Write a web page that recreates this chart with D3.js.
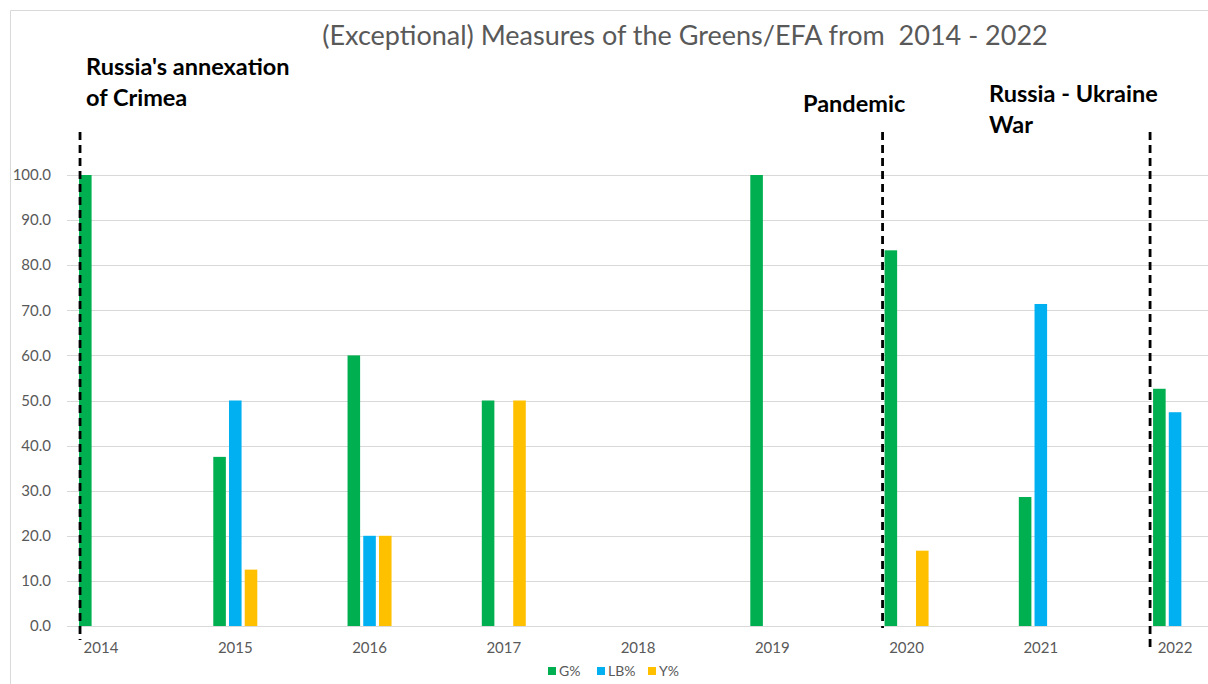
<!DOCTYPE html>
<html>
<head>
<meta charset="utf-8">
<script src="https://cdn.jsdelivr.net/npm/d3@7"></script>
<style>
  body { margin: 0; background: #fff; }
  svg { display: block; }
  text { font-family: Lato, "Open Sans", sans-serif; }
</style>
</head>
<body>
<svg id="chart" width="1208" height="684"></svg>
<script>
const years = ["2014", "2015", "2016", "2017", "2018", "2019", "2020", "2021", "2022"];
const seriesNames = ["G%", "LB%", "Y%"];
const gValues  = [100, 37.5, 60, 50, null, 100, 83.3, 28.6, 52.6];
const lbValues = [null, 50, 20, null, null, null, null, 71.4, 47.4];
const yValues  = [null, 12.5, 20, 50, null, null, 16.7, null, null];
const seriesColors = ["#00B050", "#00B0F0", "#FFC000"];
const yTicks = [0, 10, 20, 30, 40, 50, 60, 70, 80, 90, 100];
const events = [
  { year: "2014", lines: ["Russia's annexation", "of Crimea"] },
  { year: "2020", lines: ["Pandemic"] },
  { year: "2022", lines: ["Russia - Ukraine", "War"] }
];
const title = "(Exceptional) Measures of the Greens/EFA from  2014 - 2022";

const seriesValues = [gValues, lbValues, yValues];
const svg = d3.select("#chart");

// chart border (top and left visible)
svg.append("path").attr("d", "M10.5,684 V10.5 H1208").attr("fill", "none")
  .attr("stroke", "#d9d9d9").attr("stroke-width", 1);

const x = d3.scaleBand().domain(years).range([33.9, 1242.2]).paddingInner(0).paddingOuter(0);
const xs = d3.scaleBand().domain(seriesNames).range([-22, 22]).paddingInner(0.2);
const y = d3.scaleLinear().domain([0, 100]).range([626, 175]);

// gridlines
svg.append("g").selectAll("line").data(yTicks).join("line")
  .attr("x1", 67).attr("x2", 1208)
  .attr("y1", d => Math.round(y(d)) + 0.5).attr("y2", d => Math.round(y(d)) + 0.5)
  .attr("stroke", "#d9d9d9").attr("stroke-width", 1);

// y labels
svg.append("g").selectAll("text").data(yTicks).join("text")
  .attr("x", 51).attr("y", d => y(d)).attr("dy", "0.35em")
  .attr("text-anchor", "end").attr("font-size", 15).attr("fill", "#595959")
  .text(d => d3.format(".1f")(d));

// x labels
svg.append("g").selectAll("text").data(years).join("text")
  .attr("x", d => x(d) + x.bandwidth() / 2).attr("y", 653)
  .attr("text-anchor", "middle").attr("font-size", 15).attr("fill", "#595959")
  .text(d => d);

// bars
const barData = [];
years.forEach((yr, i) => {
  seriesNames.forEach((s, j) => {
    const v = seriesValues[j][i];
    if (v != null) barData.push({ year: yr, series: s, value: v, color: seriesColors[j] });
  });
});
svg.append("g").selectAll("rect").data(barData).join("rect")
  .attr("x", d => x(d.year) + x.bandwidth() / 2 + xs(d.series))
  .attr("width", xs.bandwidth())
  .attr("y", d => y(d.value))
  .attr("height", d => y(0) - y(d.value))
  .attr("fill", d => d.color);

// event dashed lines
const lineSpec = { "2014": { dx: -21, bottom: 640 }, "2020": { dx: -24, bottom: 628 }, "2022": { dx: -25, bottom: 650 } };
svg.append("g").selectAll("line").data(events).join("line")
  .attr("x1", d => x(d.year) + x.bandwidth() / 2 + lineSpec[d.year].dx)
  .attr("x2", d => x(d.year) + x.bandwidth() / 2 + lineSpec[d.year].dx)
  .attr("y1", 132).attr("y2", d => lineSpec[d.year].bottom)
  .attr("stroke", "#000").attr("stroke-width", 2.8).attr("stroke-dasharray", "8,5");

// event annotations
const annPos = { "2014": { x: 86, y: 75 }, "2020": { x: 803, y: 112 }, "2022": { x: 989, y: 102 } };
events.forEach(ev => {
  const t = svg.append("text").attr("x", annPos[ev.year].x).attr("y", annPos[ev.year].y)
    .attr("font-size", 23.5).attr("font-weight", "bold").attr("fill", "#000");
  ev.lines.forEach((ln, k) => {
    t.append("tspan").attr("x", annPos[ev.year].x).attr("dy", k === 0 ? 0 : 31).text(ln);
  });
});

// title
svg.append("text").attr("x", 685).attr("y", 45).attr("text-anchor", "middle")
  .style("white-space", "pre")
  .attr("font-size", 27).attr("fill", "#595959").text(title);

// legend
const legendX = [548, 597, 648];
const lg = svg.append("g").selectAll("g").data(seriesNames).join("g")
  .attr("transform", (d, i) => `translate(${legendX[i]},671)`);
lg.append("rect").attr("x", 0).attr("y", -4).attr("width", 8).attr("height", 8)
  .attr("fill", (d, i) => seriesColors[i]);
lg.append("text").attr("x", 11).attr("y", 0).attr("dy", "0.35em")
  .attr("font-size", 14).attr("fill", "#595959").text(d => d);
</script>
</body>
</html>
